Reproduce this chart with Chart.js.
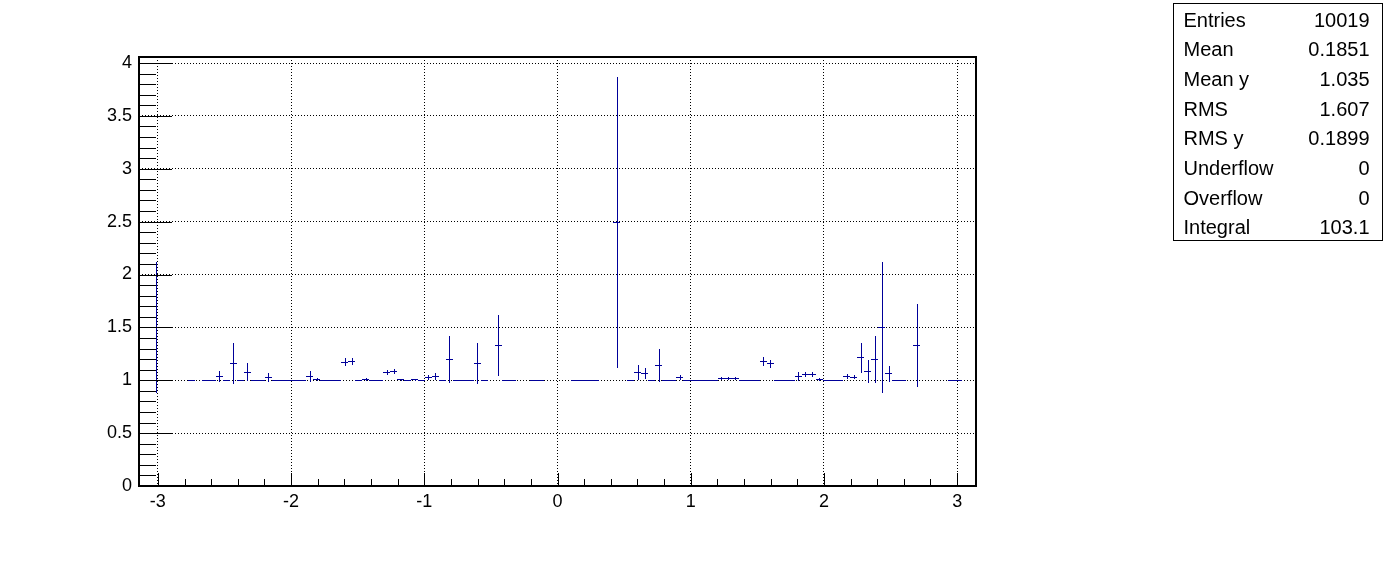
<!DOCTYPE html>
<html>
<head>
<meta charset="utf-8">
<title>Profile</title>
<script src="https://cdn.jsdelivr.net/npm/chart.js@4/dist/chart.umd.min.js"></script>
<style>
  body { margin: 0; background: #fff; }
  canvas { display: block; }
</style>
</head>
<body>
<canvas id="profCanvas" width="1396" height="572"></canvas>
<script>
// Profile bins over [-pi, pi], 120 bins; null = empty bin (not drawn)
const binValues = [
    null, null, 1.5, null, null, null, null, 1, null, 1,
    1, 1.04, 1, 1.166, 1, 1.08, 1, 1, 1.028, 1,
    1, 1, 1, 1, 1.043, 1.01, 1, 1, 1, 1.176,
    1.182, 1, 1.01, 1, 1, 1.075, 1.09, 1.008, 1, 1.008,
    1, 1.028, 1.04, 1, 1.2, 1, 1, 1, 1.163, 1,
    null, 1.333, 1, 1, null, null, 1, 1, null, null,
    null, null, 1, 1, 1, 1, null, null, 2.5, null,
    1, 1.08, 1.07, 1, 1.144, 1, 1, 1.031, 1, 1,
    1, 1, 1, 1.018, 1.018, 1.018, 1, 1, 1, 1.182,
    1.16, 1, 1, 1, 1.04, 1.062, 1.062, 1.01, 1, 1,
    1, 1.04, 1.033, 1.217, 1.087, 1.2, 1.5, 1.066, 1, 1,
    null, 1.333, null, null, null, null, 1, 1, null, null
];

const binErrors = [
    0, 0, 0.615, 0, 0, 0, 0, 0, 0, 0,
    0, 0.045, 0, 0.19, 0, 0.08, 0, 0, 0.038, 0,
    0, 0, 0, 0, 0.047, 0.01, 0, 0, 0, 0.03,
    0.03, 0, 0.01, 0, 0, 0.02, 0.02, 0.008, 0, 0.008,
    0, 0.02, 0.025, 0, 0.22, 0, 0, 0, 0.19, 0,
    0, 0.28, 0, 0, 0, 0, 0, 0, 0, 0,
    0, 0, 0, 0, 0, 0, 0, 0, 1.372, 0,
    0, 0.065, 0.05, 0, 0.155, 0, 0, 0.015, 0, 0,
    0, 0, 0, 0.01, 0.01, 0.01, 0, 0, 0, 0.035,
    0.03, 0, 0, 0, 0.04, 0.02, 0.02, 0.01, 0, 0,
    0, 0.015, 0.015, 0.139, 0.1, 0.22, 0.615, 0.07, 0, 0,
    0, 0.39, 0, 0, 0, 0, 0, 0, 0, 0
];

const xTickValues = [-3, -2, -1, 0, 1, 2, 3];
const xTickLabels = ["-3", "-2", "-1", "0", "1", "2", "3"];
const yTickValues = [0, 0.5, 1, 1.5, 2, 2.5, 3, 3.5, 4];
const yTickLabels = ["0", "0.5", "1", "1.5", "2", "2.5", "3", "3.5", "4"];

const statLabels = ["Entries", "Mean", "Mean y", "RMS", "RMS y", "Underflow", "Overflow", "Integral"];
const statValues = ["10019", "0.1851", "1.035", "1.607", "0.1899", "0", "0", "103.1"];

const xMin = -Math.PI;
const xMax = Math.PI;
const yMax = 4.057;
const binWidth = (xMax - xMin) / binValues.length;
const lineColor = "#000099";
const fontFamily = '"Liberation Sans", Arial, Helvetica, sans-serif';

// bin centres -> points
const points = [];
binValues.forEach((v, i) => {
    if (v === null) return;
    points.push({ x: xMin + (i + 0.5) * binWidth, y: v, err: binErrors[i] });
});

// ROOT-like frame, inside ticks, error bars and stats box
const rootStyle = {
    id: "rootStyle",
    afterDatasetsDraw(chart) {
        const ctx = chart.ctx;
        const a = chart.chartArea;
        const xs = chart.scales.x;
        const ys = chart.scales.y;
        ctx.save();

        // error bars
        ctx.strokeStyle = lineColor;
        ctx.lineWidth = 1;
        ctx.beginPath();
        points.forEach(p => {
            const xl = Math.round(xs.getPixelForValue(p.x - binWidth / 2));
            const xr = Math.round(xs.getPixelForValue(p.x + binWidth / 2));
            const xc = Math.round(xs.getPixelForValue(p.x)) + 0.5;
            const yc = Math.round(ys.getPixelForValue(p.y)) + 0.5;
            ctx.moveTo(xl, yc);
            ctx.lineTo(xr, yc);
            if (p.err > 0) {
                ctx.moveTo(xc, Math.round(ys.getPixelForValue(p.y + p.err)));
                ctx.lineTo(xc, Math.round(ys.getPixelForValue(p.y - p.err)) + 1);
            }
        });
        ctx.stroke();

        // ticks (inside the frame)
        ctx.strokeStyle = "#000";
        ctx.beginPath();
        for (let k = 0; k <= 40; ++k) {
            const v = k / 10;
            if (v > yMax) break;
            const py = Math.round(ys.getPixelForValue(v)) + 0.5;
            const len = (k % 5 === 0) ? 33 : 17;
            ctx.moveTo(a.left, py);
            ctx.lineTo(a.left + len, py);
        }
        for (let k = -15; k <= 15; ++k) {
            const v = k / 5;
            const px = Math.round(xs.getPixelForValue(v)) + 0.5;
            const len = (k % 5 === 0) ? 13 : 7;
            ctx.moveTo(px, a.bottom);
            ctx.lineTo(px, a.bottom - len);
        }
        ctx.stroke();

        // frame
        ctx.lineWidth = 2;
        ctx.strokeRect(a.left, a.top, a.right - a.left, a.bottom - a.top);

        // stats box
        const bx = 1173.5, by = 3.5, bw = 209, bh = 237;
        ctx.lineWidth = 1;
        ctx.fillStyle = "#fff";
        ctx.fillRect(bx, by, bw, bh);
        ctx.strokeRect(bx, by, bw, bh);
        ctx.fillStyle = "#000";
        ctx.font = "20px " + fontFamily;
        ctx.textBaseline = "middle";
        const rowH = bh / statLabels.length;
        statLabels.forEach((lab, i) => {
            const ty = by + rowH * (i + 0.5) + 3;
            ctx.textAlign = "left";
            ctx.fillText(lab, bx + 10, ty);
            ctx.textAlign = "right";
            ctx.fillText(statValues[i], bx + bw - 13, ty);
        });

        ctx.restore();
    }
};

const canvas_prof = document.getElementById("profCanvas");

const config = {
    type: "scatter",
    data: {
        datasets: [{
            data: points,
            pointRadius: 0,
            showLine: false,
            borderColor: lineColor
        }]
    },
    options: {
        responsive: false,
        animation: false,
        devicePixelRatio: 1,
        layout: { padding: { left: 0, top: 57, right: 420, bottom: 0 } },
        plugins: {
            legend: { display: false },
            tooltip: { enabled: false }
        },
        scales: {
            x: {
                type: "linear",
                min: xMin,
                max: xMax,
                afterBuildTicks: s => { s.ticks = xTickValues.map(v => ({ value: v })); },
                afterFit: s => { s.height = 86; },
                grid: { color: "#000", lineWidth: 1, drawTicks: false },
                border: { display: false, dash: [1, 2] },
                ticks: {
                    color: "#000",
                    padding: 5,
                    maxRotation: 0,
                    autoSkip: false,
                    font: { family: fontFamily, size: 18 },
                    callback: (v, i) => xTickLabels[i]
                }
            },
            y: {
                type: "linear",
                min: 0,
                max: yMax,
                afterBuildTicks: s => { s.ticks = yTickValues.map(v => ({ value: v })); },
                afterFit: s => { s.width = 139; },
                grid: { color: "#000", lineWidth: 1, drawTicks: false },
                border: { display: false, dash: [1, 2] },
                ticks: {
                    color: "#000",
                    padding: 7,
                    autoSkip: false,
                    font: { family: fontFamily, size: 18 },
                    callback: (v, i) => yTickLabels[i]
                }
            }
        }
    },
    plugins: [rootStyle]
};

new Chart(canvas_prof, config);
</script>
</body>
</html>
